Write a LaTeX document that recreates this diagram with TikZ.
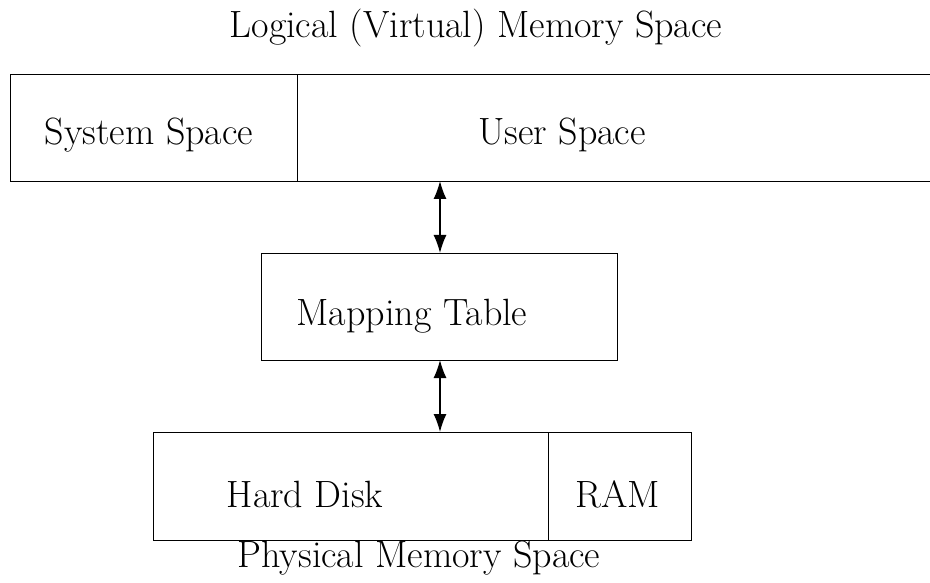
\documentclass[tikz,border=0pt]{standalone}
\usetikzlibrary{arrows.meta}
\begin{document}
\begin{tikzpicture}[x=1pt,y=-1pt,
  box/.style={draw,line width=1.4pt,rectangle,inner sep=0pt,anchor=north west},
  lbl/.style={font=\fontsize{38}{44}\selectfont,inner sep=0pt},
  dbl/.style={{Latex[length=18pt,width=13pt]}-{Latex[length=18pt,width=13pt]},line width=1.4pt}]
\clip (0,0) rectangle (930,583);
\useasboundingbox (0,0) rectangle (930,583);
\node[lbl] (title) at (476,28) {Logical (Virtual) Memory Space};
\node[box,minimum width=287pt,minimum height=107pt] (sys) at (10,74) {};
\node[box,minimum width=650pt,minimum height=107pt] (user) at (297,74) {};
\node[lbl] (syst) at (149,135) {System Space};
\node[lbl] (usert) at (562,135) {User Space};
\node[box,minimum width=356pt,minimum height=107pt] (map) at (261,253) {};
\node[lbl] (mapt) at (412,316) {Mapping Table};
\node[box,minimum width=395pt,minimum height=108pt] (disk) at (153,432) {};
\node[box,minimum width=143pt,minimum height=108pt] (ram) at (548,432) {};
\node[lbl] (diskt) at (305,494) {Hard Disk};
\node[lbl] (ramt) at (618,494) {RAM};
\node[lbl] (phys) at (419,558) {Physical Memory Space};
\coordinate (a1) at (440,181);
\coordinate (a2) at (440,253);
\coordinate (a3) at (440,360);
\coordinate (a4) at (440,432);
\draw[dbl] (a1) -- (a2);
\draw[dbl] (a3) -- (a4);
\end{tikzpicture}
\end{document}
